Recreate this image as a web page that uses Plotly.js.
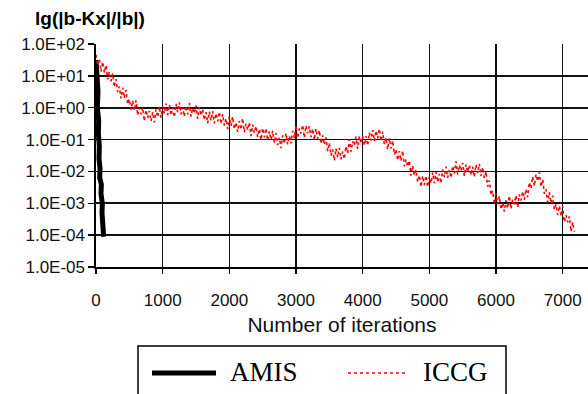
<!DOCTYPE html>
<html>
<head>
<meta charset="utf-8">
<script src="https://cdn.plot.ly/plotly-3.0.1.min.js"></script>
<style>html,body{margin:0;padding:0;background:#fff;}#chart{width:588px;height:394px;}</style>
</head>
<body>
<div id="chart"></div>
<script>
// ---- data (values are lg of the relative residual |b-Kx|/|b|) ----
const amisIter = [0, 15, 30, 20, 40, 35, 50, 45, 60, 55, 80, 75, 95, 90, 105, 100, 110, 115];
const amisLg   = [1.5, 1.0, 0.5, 0.0, -0.4, -0.8, -1.2, -1.6, -1.9, -2.2, -2.4, -2.7, -3.0, -3.3, -3.6, -3.85, -4.0, -4.05];

const iccgIter = [
  0,25,50,75,100,125,150,175,200,225,250,275,300,325,350,375,
  400,425,450,475,500,525,550,575,600,625,650,675,700,725,750,775,
  800,825,850,875,900,925,950,975,1000,1025,1050,1075,1100,1125,1150,1175,
  1200,1225,1250,1275,1300,1325,1350,1375,1400,1425,1450,1475,1500,1525,1550,1575,
  1600,1625,1650,1675,1700,1725,1750,1775,1800,1825,1850,1875,1900,1925,1950,1975,
  2000,2025,2050,2075,2100,2125,2150,2175,2200,2225,2250,2275,2300,2325,2350,2375,
  2400,2425,2450,2475,2500,2525,2550,2575,2600,2625,2650,2675,2700,2725,2750,2775,
  2800,2825,2850,2875,2900,2925,2950,2975,3000,3025,3050,3075,3100,3125,3150,3175,
  3200,3225,3250,3275,3300,3325,3350,3375,3400,3425,3450,3475,3500,3525,3550,3575,
  3600,3625,3650,3675,3700,3725,3750,3775,3800,3825,3850,3875,3900,3925,3950,3975,
  4000,4025,4050,4075,4100,4125,4150,4175,4200,4225,4250,4275,4300,4325,4350,4375,
  4400,4425,4450,4475,4500,4525,4550,4575,4600,4625,4650,4675,4700,4725,4750,4775,
  4800,4825,4850,4875,4900,4925,4950,4975,5000,5025,5050,5075,5100,5125,5150,5175,
  5200,5225,5250,5275,5300,5325,5350,5375,5400,5425,5450,5475,5500,5525,5550,5575,
  5600,5625,5650,5675,5700,5725,5750,5775,5800,5825,5850,5875,5900,5925,5950,5975,
  6000,6025,6050,6075,6100,6125,6150,6175,6200,6225,6250,6275,6300,6325,6350,6375,
  6400,6425,6450,6475,6500,6525,6550,6575,6600,6625,6650,6675,6700,6725,6750,6775,
  6800,6825,6850,6875,6900,6925,6950,6975,7000,7025,7050,7075,7100,7125,7150,7175
];
const iccgLg = [
  1.66,1.33,1.53,1.13,1.44,1.10,1.34,0.89,1.13,0.83,1.08,0.65,0.90,0.49,0.67,0.29,
  0.63,0.30,0.55,0.11,0.27,-0.07,0.22,-0.09,0.23,-0.24,0.00,-0.21,0.01,-0.42,-0.07,-0.32,
  -0.10,-0.42,-0.14,-0.46,-0.05,-0.30,0.04,-0.31,0.03,-0.19,0.13,-0.23,0.10,-0.24,0.01,-0.30,
  0.12,-0.14,0.17,-0.21,0.01,-0.28,0.06,-0.21,0.15,-0.28,-0.01,-0.18,0.07,-0.35,0.01,-0.25,
  -0.04,-0.39,-0.14,-0.49,-0.12,-0.40,-0.11,-0.49,-0.18,-0.43,-0.13,-0.51,-0.20,-0.56,-0.34,-0.67,
  -0.28,-0.57,-0.28,-0.67,-0.46,-0.76,-0.42,-0.69,-0.33,-0.77,-0.50,-0.70,-0.46,-0.89,-0.53,-0.79,
  -0.58,-0.92,-0.67,-1.01,-0.64,-0.93,-0.64,-1.03,-0.74,-1.01,-0.72,-1.11,-0.80,-1.17,-0.94,-1.27,
  -0.87,-1.13,-0.80,-1.15,-0.88,-1.12,-0.73,-0.95,-0.55,-0.95,-0.65,-0.81,-0.54,-0.94,-0.56,-0.80,
  -0.58,-0.92,-0.66,-1.02,-0.66,-0.97,-0.71,-1.13,-0.87,-1.17,-0.93,-1.36,-1.10,-1.50,-1.31,-1.66,
  -1.28,-1.56,-1.26,-1.62,-1.37,-1.61,-1.21,-1.42,-1.00,-1.38,-1.05,-1.19,-0.91,-1.29,-0.90,-1.12,
  -0.88,-1.18,-0.89,-1.19,-0.78,-1.03,-0.70,-1.05,-0.72,-0.96,-0.66,-1.05,-0.75,-1.14,-0.94,-1.31,
  -0.95,-1.28,-1.03,-1.47,-1.31,-1.65,-1.36,-1.67,-1.35,-1.84,-1.62,-1.85,-1.66,-2.13,-1.82,-2.12,
  -1.95,-2.33,-2.12,-2.49,-2.14,-2.43,-2.13,-2.49,-2.16,-2.37,-2.03,-2.37,-2.02,-2.34,-2.08,-2.37,
  -1.94,-2.18,-1.85,-2.20,-1.95,-2.20,-1.83,-2.07,-1.68,-2.09,-1.80,-1.98,-1.73,-2.14,-1.78,-2.02,
  -1.80,-2.12,-1.85,-2.18,-1.79,-2.06,-1.76,-2.15,-1.87,-2.21,-2.00,-2.48,-2.28,-2.74,-2.61,-3.02,
  -2.70,-3.03,-2.78,-3.19,-2.98,-3.26,-2.91,-3.16,-2.77,-3.18,-2.88,-3.03,-2.75,-3.13,-2.72,-2.91,
  -2.63,-2.89,-2.55,-2.81,-2.34,-2.54,-2.16,-2.46,-2.09,-2.31,-2.03,-2.48,-2.25,-2.70,-2.56,-2.97,
  -2.65,-3.00,-2.76,-3.20,-3.03,-3.37,-3.08,-3.40,-3.10,-3.59,-3.37,-3.60,-3.41,-3.89,-3.59,-3.89
];

const xTickVals = [0,1000,2000,3000,4000,5000,6000,7000];
const xTickText = ['0','1000','2000','3000','4000','5000','6000','7000'];
const yTickVals = [2,1,0,-1,-2,-3,-4,-5];
const yTickText = ['1.0E+02','1.0E+01','1.0E+00','1.0E-01','1.0E-02','1.0E-03','1.0E-04','1.0E-05'];

// ---- layout geometry ----
const L = 96, T = 44, W = 492, H = 223;
const px = x => (x - L) / W;
const py = y => (T + H - y) / H;

const traces = [
  {x: amisIter, y: amisLg, name: 'AMIS', mode: 'lines',
   line: {color: '#000', width: 5}, hoverinfo: 'skip'},
  {x: iccgIter, y: iccgLg, name: 'ICCG', mode: 'lines',
   line: {color: '#ff0000', width: 1.6, dash: 'dot'}, hoverinfo: 'skip'}
];

const tickFont = {family: 'Liberation Sans, Arial, sans-serif', size: 17, color: '#111'};
const legFont = {family: 'Liberation Serif, Times New Roman, serif', size: 27, color: '#000'};

const layout = {
  width: 588, height: 394,
  margin: {l: L, r: 588 - L - W, t: T, b: 394 - T - H, pad: 0},
  paper_bgcolor: '#fff', plot_bgcolor: '#fff',
  showlegend: false,
  title: {text: '<b>lg(|b-Kx|/|b|)</b>', font: {family: 'Liberation Sans, Arial, sans-serif', size: 19, color: '#000'},
          x: 35/588, xanchor: 'left', xref: 'container', y: 1 - 18/394, yanchor: 'middle', yref: 'container'},
  xaxis: {
    range: [0, 7380], tickvals: xTickVals, ticktext: xTickText,
    showgrid: true, gridcolor: '#111', gridwidth: 1.6, zeroline: false,
    showline: true, linecolor: '#000', linewidth: 1.6,
    ticks: 'outside', ticklen: 5, tickwidth: 1.5, tickcolor: '#000',
    tickfont: tickFont, ticklabelstandoff: 12,
    title: {text: 'Number of iterations', font: {family: 'Liberation Sans, Arial, sans-serif', size: 21, color: '#111'}, standoff: 8}
  },
  yaxis: {
    range: [-5, 2], tickvals: yTickVals, ticktext: yTickText,
    showgrid: true, gridcolor: '#111', gridwidth: 1.6, zeroline: false,
    showline: true, linecolor: '#000', linewidth: 1.6,
    ticks: 'outside', ticklen: 6, tickwidth: 1.5, tickcolor: '#000',
    tickfont: tickFont, ticklabelstandoff: 0
  },
  shapes: [
    {type: 'rect', xref: 'paper', yref: 'paper', x0: px(138), x1: px(506), y0: py(346), y1: py(402),
     line: {color: '#000', width: 1.5}, fillcolor: 'rgba(0,0,0,0)'},
    {type: 'line', xref: 'paper', yref: 'paper', x0: px(152), x1: px(216), y0: py(373), y1: py(373),
     line: {color: '#000', width: 5}},
    {type: 'line', xref: 'paper', yref: 'paper', x0: px(348), x1: px(408), y0: py(373), y1: py(373),
     line: {color: '#ff0000', width: 1.5, dash: 'dot'}}
  ],
  annotations: [
    {text: 'AMIS', xref: 'paper', yref: 'paper', x: px(228), y: py(372), xanchor: 'left', yanchor: 'middle',
     showarrow: false, font: legFont},
    {text: 'ICCG', xref: 'paper', yref: 'paper', x: px(421), y: py(372), xanchor: 'left', yanchor: 'middle',
     showarrow: false, font: legFont}
  ]
};

Plotly.newPlot('chart', traces, layout, {staticPlot: true, displayModeBar: false});
</script>
</body>
</html>
